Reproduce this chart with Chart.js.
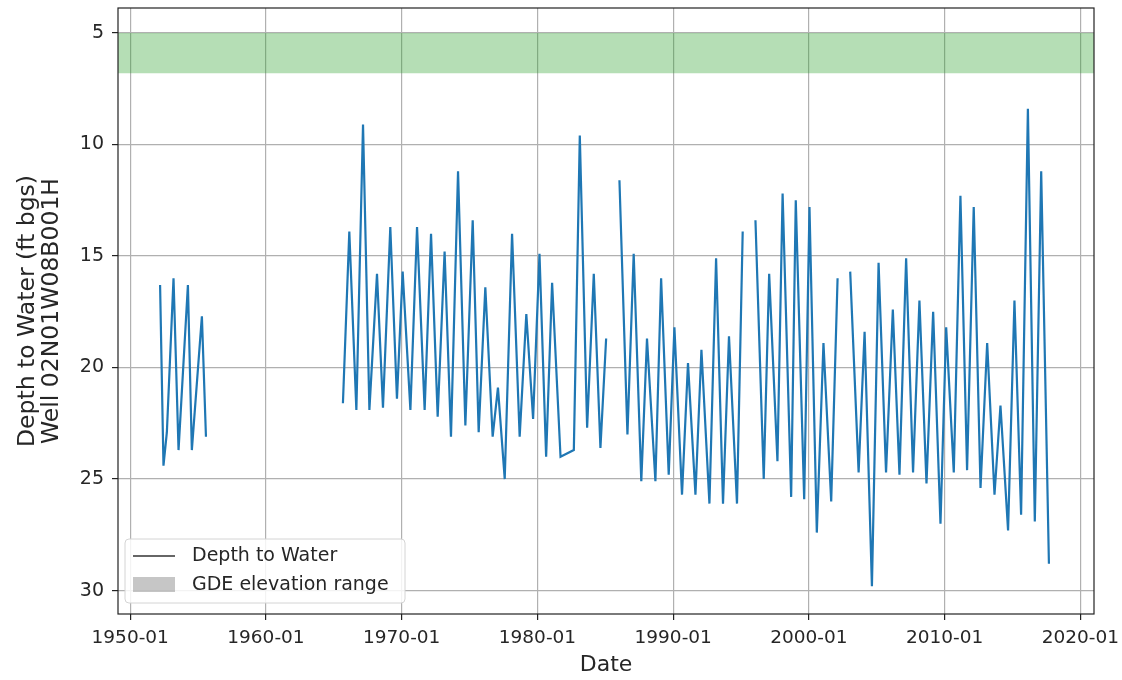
<!DOCTYPE html>
<html>
<head>
<meta charset="utf-8">
<script src="https://cdn.jsdelivr.net/npm/chart.js@4"></script>
<style>
  body { margin: 0; background: #fff; }
  #caixa { width: 1122px; height: 680px; }
</style>
</head>
<body>
<div id="caixa"><canvas id="grafico-poco"></canvas></div>
<script>
// ===== 1. Dados =====
// datas em anos decimais; null = intervalo sem medição
const datas = [
  1952.20, 1952.45, 1952.70, 1953.19, 1953.56, 1954.25, 1954.54, 1955.28, 1955.58,
  1960.00,
  1965.67, 1966.14, 1966.66, 1967.15, 1967.62, 1968.18, 1968.62, 1969.16, 1969.65,
  1970.07, 1970.64, 1971.13, 1971.69, 1972.16, 1972.65, 1973.16, 1973.63, 1974.15,
  1974.69, 1975.23, 1975.67, 1976.16, 1976.70, 1977.09, 1977.59, 1978.13, 1978.69,
  1979.18, 1979.68, 1980.15, 1980.64, 1981.08, 1981.70, 1982.68, 1983.12, 1983.66,
  1984.15, 1984.64, 1985.06,
  1985.50,
  1986.04, 1986.63, 1987.09, 1987.65, 1988.07, 1988.69, 1989.11, 1989.67, 1990.09,
  1990.65, 1991.09, 1991.64, 1992.08, 1992.67, 1993.16, 1993.67, 1994.11, 1994.70,
  1995.12,
  1995.60,
  1996.06, 1996.67, 1997.07, 1997.68, 1998.06, 1998.69, 1999.03, 1999.65, 2000.04,
  2000.58, 2001.07, 2001.64, 2002.11,
  2002.60,
  2003.04, 2003.66, 2004.10, 2004.64, 2005.13, 2005.68, 2006.18, 2006.67, 2007.16,
  2007.67, 2008.14, 2008.66, 2009.15, 2009.69, 2010.11, 2010.67, 2011.16, 2011.65,
  2012.14, 2012.64, 2013.13, 2013.67, 2014.11, 2014.67, 2015.14, 2015.63, 2016.13,
  2016.64, 2017.11, 2017.68
];

const profundidade = [
  16.3, 24.4, 22.9, 16.0, 23.7, 16.3, 23.7, 17.7, 23.1,
  null,
  21.6, 13.9, 21.9, 9.1, 21.9, 15.8, 21.8, 13.7, 21.4,
  15.7, 21.9, 13.7, 21.9, 14.0, 22.2, 14.8, 23.1, 11.2,
  22.6, 13.4, 22.9, 16.4, 23.1, 20.9, 25.0, 14.0, 23.1,
  17.6, 22.3, 14.9, 24.0, 16.2, 24.0, 23.7, 9.6, 22.7,
  15.8, 23.6, 18.7,
  null,
  11.6, 23.0, 14.9, 25.1, 18.7, 25.1, 16.0, 24.8, 18.2,
  25.7, 19.8, 25.7, 19.2, 26.1, 15.1, 26.1, 18.6, 26.1,
  13.9,
  null,
  13.4, 25.0, 15.8, 24.2, 12.2, 25.8, 12.5, 25.9, 12.8,
  27.4, 18.9, 26.0, 16.0,
  null,
  15.7, 24.7, 18.4, 29.8, 15.3, 24.7, 17.4, 24.8, 15.1,
  24.7, 17.0, 25.2, 17.5, 27.0, 18.2, 24.7, 12.3, 24.6,
  12.8, 25.4, 18.9, 25.7, 21.7, 27.3, 17.0, 26.6, 8.4,
  26.9, 11.2, 28.8
];

// faixa de elevação do GDE (ft bgs)
const faixaGDE = [5.0, 6.8];

// limites e marcas dos eixos
const limitesX = [1949.1, 2021.0];
const limitesY = [3.88, 31.05];
const marcasX = [1950, 1960, 1970, 1980, 1990, 2000, 2010, 2020];
const marcasY = [5, 10, 15, 20, 25, 30];


// ===== 2. Plugins de desenho =====
const fonte = 'DejaVu Sans';

// moldura preta em volta da área do gráfico
const moldura = {
  id: 'moldura',
  afterDraw(chart) {
    const { ctx, chartArea: a } = chart;
    ctx.save();
    ctx.strokeStyle = '#222';
    ctx.lineWidth = 1.2;
    ctx.strokeRect(a.left, a.top, a.right - a.left, a.bottom - a.top);
    ctx.restore();
  }
};

// legenda no canto inferior esquerdo, estilo matplotlib
const legendaInterna = {
  id: 'legendaInterna',
  afterDatasetsDraw(chart) {
    const { ctx, chartArea: a } = chart;
    const x = a.left + 7, y = a.bottom - 75, w = 280, h = 64;
    ctx.save();
    ctx.beginPath();
    ctx.roundRect(x, y, w, h, 4);
    ctx.fillStyle = 'rgba(255,255,255,0.85)';
    ctx.fill();
    ctx.strokeStyle = '#d4d4d4';
    ctx.lineWidth = 1;
    ctx.stroke();

    // linha
    ctx.beginPath();
    ctx.moveTo(x + 8, y + 17);
    ctx.lineTo(x + 50, y + 17);
    ctx.strokeStyle = '#666';
    ctx.lineWidth = 2;
    ctx.stroke();

    // retângulo cinza
    ctx.fillStyle = 'rgba(128,128,128,0.45)';
    ctx.fillRect(x + 8, y + 38, 42, 15);

    ctx.fillStyle = '#262626';
    ctx.font = '19px "' + fonte + '"';
    ctx.textBaseline = 'middle';
    ctx.fillText(chart.data.datasets[0].label, x + 67, y + 17);
    ctx.fillText(chart.data.datasets[2].label, x + 67, y + 46);
    ctx.restore();
  }
};


// ===== 3. Criar gráfico =====
const ctx = document.getElementById('grafico-poco');

const corGrade = '#b0b0b0';
const corTexto = '#262626';

new Chart(ctx, {
  type: 'line',

  data: {
    datasets: [
      {
        label: 'Depth to Water',
        data: datas.map((d, i) => ({ x: d, y: profundidade[i] })),
        borderColor: '#1f77b4',
        borderWidth: 2.2,
        pointRadius: 0,
        tension: 0,
        spanGaps: false,
        order: 0
      },
      {
        label: 'topo GDE',
        data: limitesX.map(d => ({ x: d, y: faixaGDE[0] })),
        borderWidth: 0,
        pointRadius: 0,
        fill: false,
        order: 2
      },
      {
        label: 'GDE elevation range',
        data: limitesX.map(d => ({ x: d, y: faixaGDE[1] })),
        borderWidth: 0,
        pointRadius: 0,
        fill: '-1',
        backgroundColor: 'rgba(44, 160, 44, 0.35)',
        order: 1
      }
    ]
  },

  options: {
    responsive: true,
    maintainAspectRatio: false,
    animation: false,
    layout: { padding: { top: 8, right: 28, left: 0, bottom: 0 } },

    plugins: {
      legend: { display: false },
      tooltip: { enabled: false }
    },

    scales: {
      x: {
        type: 'linear',
        min: limitesX[0],
        max: limitesX[1],
        afterBuildTicks: s => { s.ticks = marcasX.map(v => ({ value: v })); },
        afterFit: s => { s.height = 66; s.paddingLeft = 0; s.paddingRight = 0; },
        title: {
          display: true,
          text: 'Date',
          color: corTexto,
          font: { family: fonte, size: 22 },
          padding: { top: 0, bottom: 2 }
        },
        ticks: {
          color: corTexto,
          font: { family: fonte, size: 18.5 },
          padding: 7,
          maxRotation: 0,
          callback: v => v + '-01'
        },
        grid: {
          color: corGrade,
          lineWidth: 1.2,
          tickColor: '#222',
          tickLength: 6
        },
        border: { display: false }
      },

      y: {
        type: 'linear',
        reverse: true,
        min: limitesY[0],
        max: limitesY[1],
        afterBuildTicks: s => { s.ticks = marcasY.map(v => ({ value: v })); },
        afterFit: s => { s.width = 118; s.paddingTop = 0; s.paddingBottom = 0; },
        title: {
          display: true,
          text: ['Depth to Water (ft bgs)', 'Well 02N01W08B001H'],
          color: corTexto,
          font: { family: fonte, size: 23.5, lineHeight: 1.02 },
          padding: { top: 16, bottom: 0 }
        },
        ticks: {
          color: corTexto,
          font: { family: fonte, size: 19 },
          padding: 8
        },
        grid: {
          color: corGrade,
          lineWidth: 1.2,
          tickColor: '#222',
          tickLength: 6
        },
        border: { display: false }
      }
    }
  },

  plugins: [legendaInterna, moldura]
});
</script>
</body>
</html>
